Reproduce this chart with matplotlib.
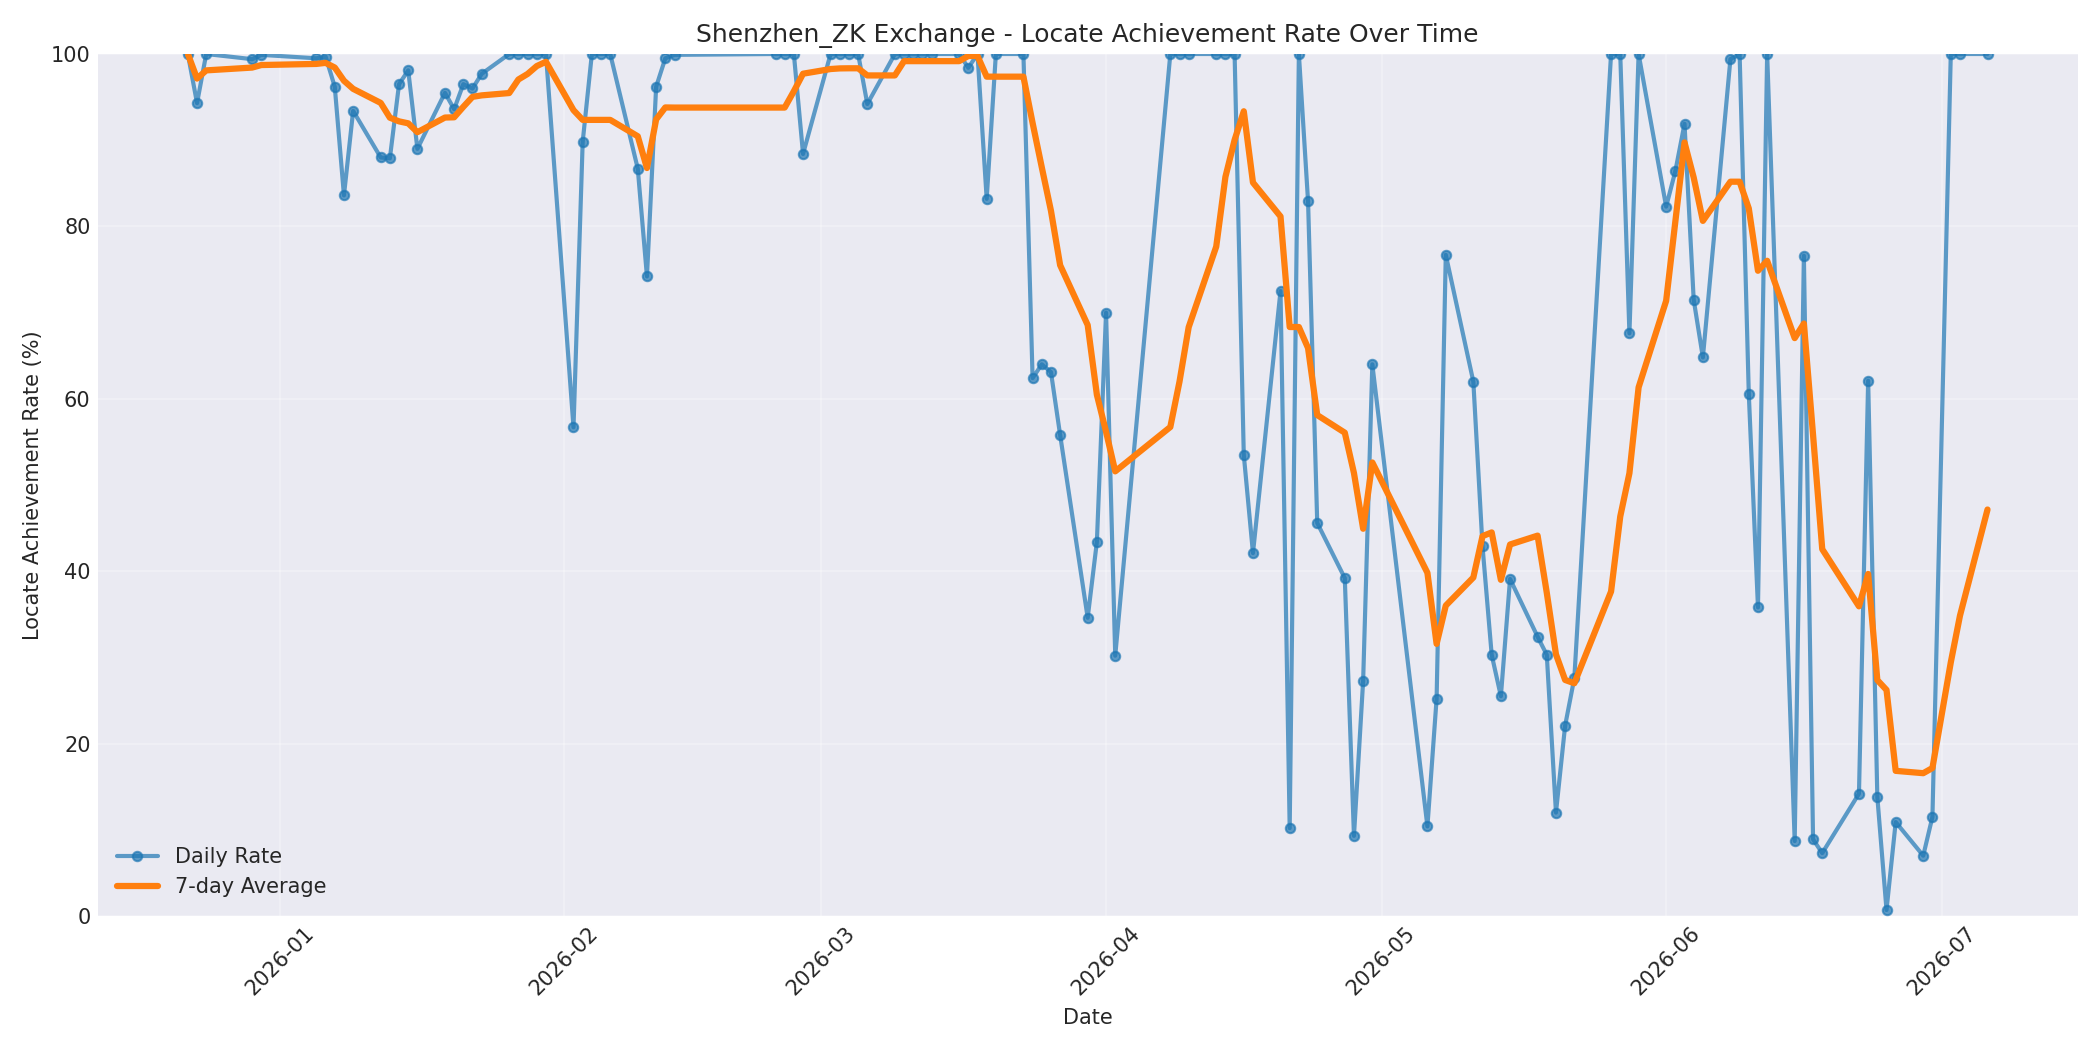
import matplotlib
matplotlib.use("Agg")
import matplotlib.pyplot as plt
import pandas as pd

dates = [
    "2025-12-22", "2025-12-23", "2025-12-24", "2025-12-29", "2025-12-30",
    "2026-01-05", "2026-01-06", "2026-01-07", "2026-01-08", "2026-01-09",
    "2026-01-12", "2026-01-13", "2026-01-14", "2026-01-15", "2026-01-16",
    "2026-01-19", "2026-01-20", "2026-01-21", "2026-01-22", "2026-01-23",
    "2026-01-26", "2026-01-27", "2026-01-28", "2026-01-29", "2026-01-30",
    "2026-02-02", "2026-02-03", "2026-02-04", "2026-02-05", "2026-02-06",
    "2026-02-09", "2026-02-10", "2026-02-11", "2026-02-12", "2026-02-13",
    "2026-02-24", "2026-02-25", "2026-02-26", "2026-02-27",
    "2026-03-02", "2026-03-03", "2026-03-04", "2026-03-05", "2026-03-06",
    "2026-03-09", "2026-03-10", "2026-03-11", "2026-03-12", "2026-03-13",
    "2026-03-16", "2026-03-17", "2026-03-18", "2026-03-19", "2026-03-20",
    "2026-03-23", "2026-03-24", "2026-03-25", "2026-03-26", "2026-03-27",
    "2026-03-30", "2026-03-31", "2026-04-01", "2026-04-02",
    "2026-04-08", "2026-04-09", "2026-04-10",
    "2026-04-13", "2026-04-14", "2026-04-15", "2026-04-16", "2026-04-17",
    "2026-04-20", "2026-04-21", "2026-04-22", "2026-04-23", "2026-04-24",
    "2026-04-27", "2026-04-28", "2026-04-29", "2026-04-30",
    "2026-05-06", "2026-05-07", "2026-05-08",
    "2026-05-11", "2026-05-12", "2026-05-13", "2026-05-14", "2026-05-15",
    "2026-05-18", "2026-05-19", "2026-05-20", "2026-05-21", "2026-05-22",
    "2026-05-26", "2026-05-27", "2026-05-28", "2026-05-29",
    "2026-06-01", "2026-06-02", "2026-06-03", "2026-06-04", "2026-06-05",
    "2026-06-08", "2026-06-09", "2026-06-10", "2026-06-11", "2026-06-12",
    "2026-06-15", "2026-06-16", "2026-06-17", "2026-06-18",
    "2026-06-22", "2026-06-23", "2026-06-24", "2026-06-25", "2026-06-26",
    "2026-06-29", "2026-06-30",
    "2026-07-02", "2026-07-03", "2026-07-06",
]

daily_rate = [
    100.0, 94.3, 100.0, 99.4, 99.9,
    99.5, 99.7, 96.2, 83.6, 93.4,
    88.0, 87.9, 96.5, 98.1, 89.0,
    95.5, 93.6, 96.5, 96.0, 97.7,
    100.0, 100.0, 100.0, 100.0, 100.0,
    56.7, 89.8, 100.0, 100.0, 100.0,
    86.7, 74.2, 96.2, 99.5, 99.9,
    100.0, 100.0, 100.0, 88.4,
    100.0, 100.0, 100.0, 100.0, 94.2,
    100.0, 100.0, 100.0, 100.0, 100.0,
    100.0, 98.4, 100.0, 83.2, 100.0,
    100.0, 62.4, 64.0, 63.1, 55.8,
    34.6, 43.4, 70.0, 30.2,
    100.0, 100.0, 100.0,
    100.0, 100.0, 100.0, 53.5, 42.1,
    72.5, 10.2, 100.0, 82.9, 45.6,
    39.2, 9.3, 27.3, 64.0,
    10.4, 25.2, 76.7,
    62.0, 42.9, 30.3, 25.5, 39.1,
    32.4, 30.3, 12.0, 22.1, 27.6,
    100.0, 100.0, 67.6, 100.0,
    82.3, 86.4, 91.9, 71.5, 64.8,
    99.4, 100.0, 60.6, 35.8, 100.0,
    8.7, 76.6, 8.9, 7.3,
    14.2, 62.1, 13.8, 0.7, 10.9,
    7.0, 11.5,
    100.0, 100.0, 100.0,
]

window = 7

plt.style.use("seaborn-v0_8-darkgrid")
plt.rcParams["font.family"] = ["DejaVu Sans"]

df = pd.DataFrame({"date": pd.to_datetime(dates), "rate": daily_rate})
df["avg"] = df["rate"].rolling(window, min_periods=1).mean()

fig, ax = plt.subplots(figsize=(14, 7), dpi=150)
ax.plot(df["date"], df["rate"], marker="o", markersize=4.5, linewidth=2,
        alpha=0.7, color="#1f77b4", label="Daily Rate")
ax.plot(df["date"], df["avg"], linewidth=3, color="#ff7f0e",
        label="7-day Average")

ax.set_title("Shenzhen_ZK Exchange - Locate Achievement Rate Over Time",
             fontsize=12)
ax.set_xlabel("Date", fontsize=10)
ax.set_ylabel("Locate Achievement Rate (%)", fontsize=10)
ax.tick_params(labelsize=10)
ax.set_ylim(0, 100)
ax.grid(True, alpha=0.3)
ax.legend(loc="lower left", fontsize=10)
plt.setp(ax.get_xticklabels(), rotation=45)

fig.tight_layout()
fig.savefig("out.png", dpi=150)
